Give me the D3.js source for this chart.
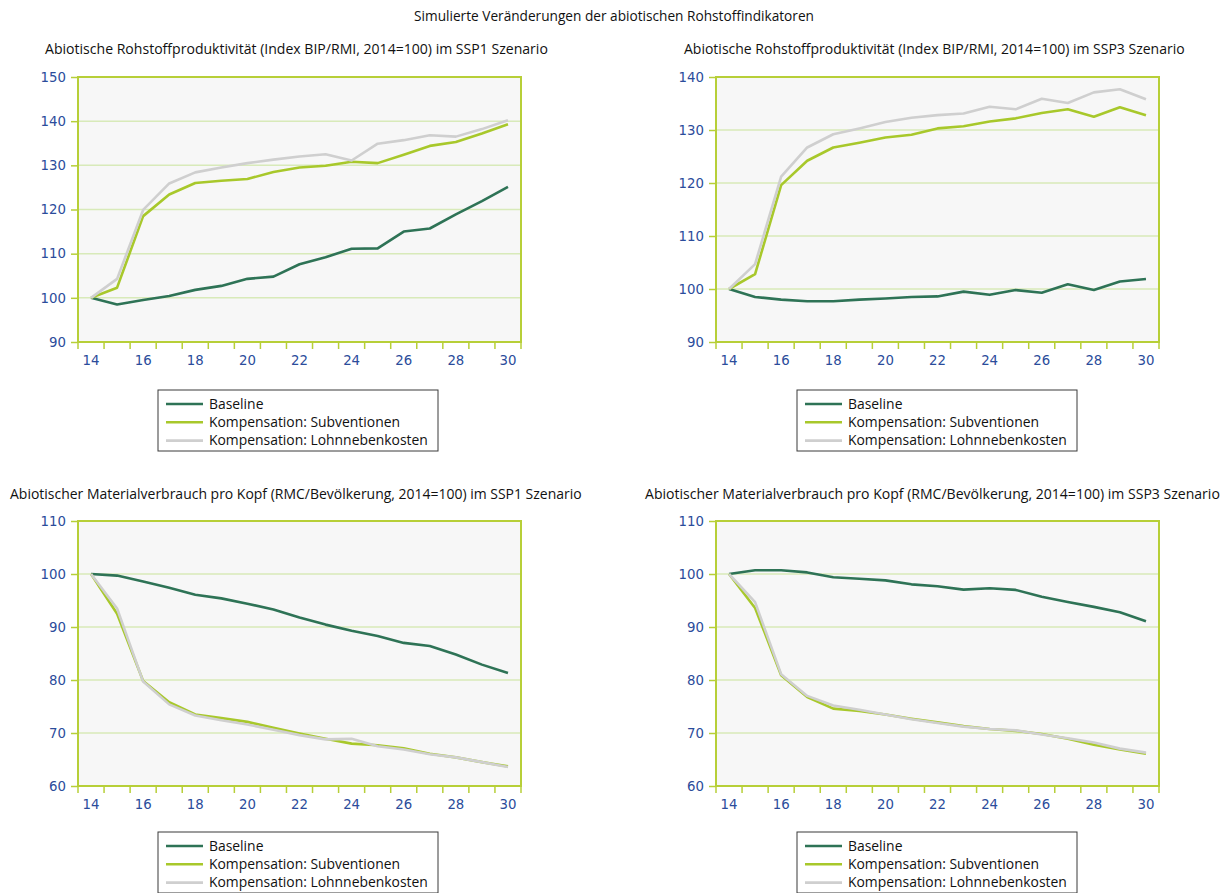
<!DOCTYPE html>
<html><head><meta charset="utf-8">
<script src="https://cdn.jsdelivr.net/npm/d3@7"></script>
<style>
body{margin:0;background:#fff;}
svg{display:block;}
</style></head>
<body>
<svg id="chart" width="1228" height="893"></svg>
<script>
// ---------- DATA ----------
const years = [2014,2015,2016,2017,2018,2019,2020,2021,2022,2023,2024,2025,2026,2027,2028,2029,2030];
const xTickLabels = ["14","","16","","18","","20","","22","","24","","26","","28","","30"];
const seriesNames = ["Baseline","Kompensation: Subventionen","Kompensation: Lohnnebenkosten"];
const mainTitle = "Simulierte Veränderungen der abiotischen Rohstoffindikatoren";
const panelTitles = [
  "Abiotische Rohstoffproduktivität (Index BIP/RMI, 2014=100) im SSP1 Szenario",
  "Abiotische Rohstoffproduktivität (Index BIP/RMI, 2014=100) im SSP3 Szenario",
  "Abiotischer Materialverbrauch pro Kopf (RMC/Bevölkerung, 2014=100) im SSP1 Szenario",
  "Abiotischer Materialverbrauch pro Kopf (RMC/Bevölkerung, 2014=100) im SSP3 Szenario"
];
const yTicksProdSSP1 = [90,100,110,120,130,140,150];
const yTicksProdSSP3 = [90,100,110,120,130,140];
const yTicksCons = [60,70,80,90,100,110];

const prodSSP1Baseline = [100,98.5,99.5,100.4,101.8,102.7,104.3,104.8,107.6,109.2,111.1,111.2,115.0,115.7,118.9,121.9,125.1];
const prodSSP1Subv     = [100,102.3,118.5,123.4,126.0,126.5,126.9,128.5,129.5,129.9,130.8,130.5,132.4,134.4,135.3,137.2,139.3];
const prodSSP1Lohn     = [100,104.3,119.9,125.9,128.4,129.5,130.5,131.3,132.0,132.5,131.1,134.9,135.7,136.8,136.5,138.2,140.2];

const prodSSP3Baseline = [100,98.5,98.0,97.7,97.7,98.0,98.2,98.5,98.6,99.5,98.9,99.8,99.3,100.9,99.8,101.4,101.9];
const prodSSP3Subv     = [100,102.8,119.6,124.2,126.7,127.6,128.6,129.1,130.3,130.7,131.6,132.2,133.2,133.9,132.5,134.3,132.8];
const prodSSP3Lohn     = [100,104.7,121.2,126.7,129.2,130.3,131.5,132.3,132.8,133.1,134.4,133.9,135.9,135.1,137.1,137.7,135.8];

const consSSP1Baseline = [100,99.7,98.6,97.4,96.1,95.4,94.4,93.3,91.8,90.45,89.3,88.3,87.0,86.4,84.8,82.9,81.3];
const consSSP1Subv     = [100,92.5,79.8,75.8,73.5,72.8,72.1,71.0,69.9,68.9,68.0,67.7,67.1,66.1,65.4,64.5,63.7];
const consSSP1Lohn     = [100,93.5,79.7,75.4,73.3,72.4,71.6,70.6,69.6,68.8,68.9,67.5,66.9,66.0,65.4,64.5,63.6];

const consSSP3Baseline = [100,100.7,100.7,100.3,99.4,99.1,98.8,98.05,97.7,97.05,97.3,97.0,95.7,94.7,93.8,92.8,91.1];
const consSSP3Subv     = [100,93.6,80.9,76.8,74.6,74.15,73.5,72.7,72.0,71.3,70.75,70.4,69.8,68.9,67.8,66.9,66.1];
const consSSP3Lohn     = [100,94.7,81.1,77.0,75.2,74.4,73.5,72.6,71.9,71.2,70.75,70.5,69.7,69.0,68.2,67.05,66.3];

// ---------- STYLE / LAYOUT ----------
const colors = ["#2E7356","#A8C82B","#CFCFCF"];
const axisGreen = "#B7CF38";
const gridGreen = "#D8EAB9";
const tickBlue = "#2B4C9B";
const titleFont = "'Open Sans', sans-serif";

const panels = [
  {title: panelTitles[0], tx:45, tw:503, ty:50, box:[78,77,521,342], yt:yTicksProdSSP1, data:[prodSSP1Baseline,prodSSP1Subv,prodSSP1Lohn], lg:[158,390]},
  {title: panelTitles[1], tx:684, tw:501, ty:50, box:[716,77,1159,342], yt:yTicksProdSSP3, data:[prodSSP3Baseline,prodSSP3Subv,prodSSP3Lohn], lg:[797,390]},
  {title: panelTitles[2], tx:10, tw:572, ty:495, box:[78,521,521,786], yt:yTicksCons, data:[consSSP1Baseline,consSSP1Subv,consSSP1Lohn], lg:[158,832]},
  {title: panelTitles[3], tx:645, tw:575, ty:495, box:[716,521,1159,786], yt:yTicksCons, data:[consSSP3Baseline,consSSP3Subv,consSSP3Lohn], lg:[797,832]}
];

const svg = d3.select("#chart");

function fitText(sel, w){
  const n = sel.node();
  const cur = n.getComputedTextLength();
  const fs = parseFloat(sel.attr("font-size"));
  sel.attr("font-size", (fs * w / cur).toFixed(2));
}

const mt = svg.append("text").attr("x",614).attr("y",21).attr("text-anchor","middle")
  .attr("font-family",titleFont).attr("font-size",12).attr("fill","#111").text(mainTitle);
fitText(mt, 400);

panels.forEach(p => {
  const [l,t,r,b] = p.box;
  const g = svg.append("g");
  const x = d3.scaleBand().domain(years).range([l,r]).padding(0);
  const bw = x.bandwidth();
  const dom = d3.extent(p.yt);
  const y = d3.scaleLinear().domain(dom).range([b,t]);

  // title
  const tt = g.append("text").attr("x",p.tx).attr("y",p.ty+4)
    .attr("font-family",titleFont).attr("font-size",12).attr("fill","#111").text(p.title);
  fitText(tt, p.tw);

  // background
  g.append("rect").attr("x",l).attr("y",t).attr("width",r-l).attr("height",b-t).attr("fill","#F7F7F7");

  // gridlines
  g.append("g").selectAll("line").data(p.yt.filter(v=>v>dom[0] && v<dom[1])).join("line")
    .attr("x1",l).attr("x2",r).attr("y1",d=>y(d)).attr("y2",d=>y(d))
    .attr("stroke",gridGreen).attr("stroke-width",1.5);

  // y axis
  const ya = g.append("g").attr("transform",`translate(${l},0)`)
    .call(d3.axisLeft(y).tickValues(p.yt).tickSize(7).tickPadding(5).tickFormat(d3.format("d")));
  ya.select(".domain").remove();
  ya.selectAll(".tick line").attr("stroke",axisGreen).attr("stroke-width",1.5);
  ya.selectAll(".tick text").attr("fill",tickBlue).attr("font-family","'DejaVu Sans', sans-serif").attr("font-size",13.3);

  // x axis labels
  const xa = g.append("g").attr("transform",`translate(0,${b})`)
    .call(d3.axisBottom(x).tickSize(0).tickPadding(14).tickFormat((d,i)=>xTickLabels[i]));
  xa.select(".domain").remove();
  xa.selectAll(".tick text").attr("fill",tickBlue).attr("font-family","'DejaVu Sans', sans-serif").attr("font-size",13.3);

  // x tick marks at band boundaries
  const bounds = years.map(v=>x(v)).concat([x.range()[1]]);
  g.append("g").selectAll("line").data(bounds).join("line")
    .attr("x1",d=>d).attr("x2",d=>d).attr("y1",b).attr("y2",b+7)
    .attr("stroke",axisGreen).attr("stroke-width",1.5);

  // border
  g.append("rect").attr("x",l).attr("y",t).attr("width",r-l).attr("height",b-t)
    .attr("fill","none").attr("stroke",axisGreen).attr("stroke-width",2);

  // lines
  const line = d3.line().x((d,i)=>x(years[i])+bw/2).y(d=>y(d));
  p.data.forEach((s,k)=>{
    g.append("path").datum(s).attr("d",line).attr("fill","none")
      .attr("stroke",colors[k]).attr("stroke-width",2.6).attr("stroke-linejoin","round");
  });

  // legend
  const [lx,ly] = p.lg;
  const lgG = g.append("g").attr("transform",`translate(${lx},${ly})`);
  lgG.append("rect").attr("x",0).attr("y",0).attr("width",280).attr("height",61)
    .attr("fill","#fff").attr("stroke","#3a3a3a").attr("stroke-width",1);
  seriesNames.forEach((nm,k)=>{
    const yy = 14 + k*18.3;
    lgG.append("line").attr("x1",8).attr("x2",45).attr("y1",yy).attr("y2",yy)
      .attr("stroke",colors[k]).attr("stroke-width",2.6);
    const tx = lgG.append("text").attr("x",51).attr("y",yy+4.5).attr("font-family",titleFont)
      .attr("font-size",13).attr("fill","#111").text(nm);
    if (k === 2) { fitText(tx, 219); }
  });
  // unify legend font sizes to the fitted size
  const fs = lgG.selectAll("text").filter((d,i)=>i===2).attr("font-size");
  lgG.selectAll("text").attr("font-size", fs);
});
</script>
</body></html>
